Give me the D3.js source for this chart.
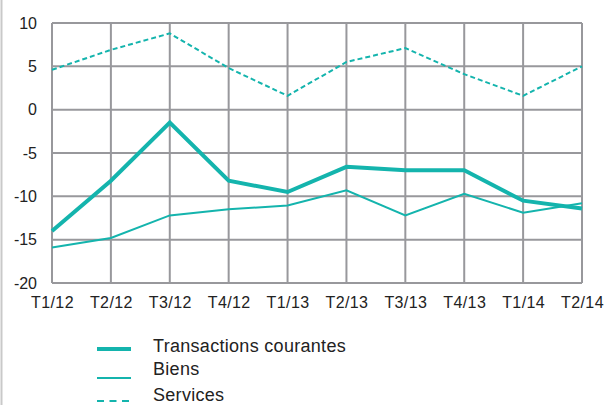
<!DOCTYPE html>
<html>
<head>
<meta charset="utf-8">
<script src="https://cdn.jsdelivr.net/npm/d3@7"></script>
<style>
  body { margin: 0; background: #fff; }
  svg { display: block; font-family: "Liberation Sans", Arial, sans-serif; }
</style>
</head>
<body>
<div id="chart"></div>
<script>
const quarters = ["T1/12", "T2/12", "T3/12", "T4/12", "T1/13", "T2/13", "T3/13", "T4/13", "T1/14", "T2/14"];
const transactions = [-14.0, -8.2, -1.5, -8.2, -9.5, -6.6, -7.0, -7.0, -10.5, -11.4];
const biens = [-15.9, -14.8, -12.2, -11.5, -11.05, -9.3, -12.2, -9.7, -11.9, -10.8];
const services = [4.6, 6.9, 8.8, 4.8, 1.6, 5.5, 7.1, 4.1, 1.6, 5.0];
const yTicks = [10, 5, 0, -5, -10, -15, -20];

const series = [
  { name: "Transactions courantes", values: transactions, width: 4, dash: null, legendDash: null },
  { name: "Biens", values: biens, width: 2, dash: null, legendDash: null },
  { name: "Services", values: services, width: 2, dash: "5,3", legendDash: "7,5.5" },
];

const W = 608, H = 405;
const plot = { left: 52, right: 582, top: 23, bottom: 283 };
const teal = "#14b4ad";
const grey = "#98989c";

const svg = d3.select("#chart").append("svg").attr("width", W).attr("height", H);

// frame line on the left edge
svg.append("line").attr("x1", 1.5).attr("x2", 1.5).attr("y1", 0).attr("y2", H)
  .attr("stroke", "#c9c9c9").attr("stroke-width", 2);

const x = d3.scalePoint(quarters, [plot.left, plot.right]);
const y = d3.scaleLinear([-20, 10], [plot.bottom, plot.top]);

// grid
svg.append("g").selectAll("line").data(yTicks).join("line")
  .attr("x1", plot.left).attr("x2", plot.right)
  .attr("y1", d => y(d)).attr("y2", d => y(d))
  .attr("stroke", grey).attr("stroke-width", 2);
svg.append("g").selectAll("line").data(quarters).join("line")
  .attr("x1", d => x(d)).attr("x2", d => x(d))
  .attr("y1", plot.top).attr("y2", plot.bottom)
  .attr("stroke", grey).attr("stroke-width", 2);

// axes labels (plain hyphen for negatives, like the original)
const yAxis = svg.append("g").attr("transform", `translate(${plot.left},0)`)
  .call(d3.axisLeft(y).tickValues(yTicks).tickFormat(d => String(d)).tickSize(0).tickPadding(15));
const xAxis = svg.append("g").attr("transform", `translate(0,${plot.bottom})`)
  .call(d3.axisBottom(x).tickSize(0).tickPadding(14));
[yAxis, xAxis].forEach(a => {
  a.select(".domain").remove();
  a.selectAll("text").attr("font-size", 16).attr("fill", "#222")
    .attr("font-family", "'Liberation Sans', Arial, sans-serif");
});
xAxis.selectAll("text").attr("letter-spacing", 0.4);

// lines
const line = vals => d3.line().x((d, i) => x(quarters[i])).y(d => y(d))(vals);
svg.append("g").selectAll("path").data(series).join("path")
  .attr("d", d => line(d.values))
  .attr("fill", "none")
  .attr("stroke", teal)
  .attr("stroke-width", d => d.width)
  .attr("stroke-dasharray", d => d.dash);

// legend
const legend = svg.append("g");
const rows = [
  { sy: 349, ty: 352 },
  { sy: 378, ty: 375 },
  { sy: 401, ty: 401 },
];
series.forEach((s, i) => {
  legend.append("line")
    .attr("x1", 97).attr("x2", 131)
    .attr("y1", rows[i].sy).attr("y2", rows[i].sy)
    .attr("stroke", teal).attr("stroke-width", s.width)
    .attr("stroke-dasharray", s.legendDash);
  legend.append("text")
    .attr("x", 153).attr("y", rows[i].ty)
    .attr("font-size", 18).attr("letter-spacing", 0.3).attr("fill", "#222")
    .text(s.name);
});
</script>
</body>
</html>
